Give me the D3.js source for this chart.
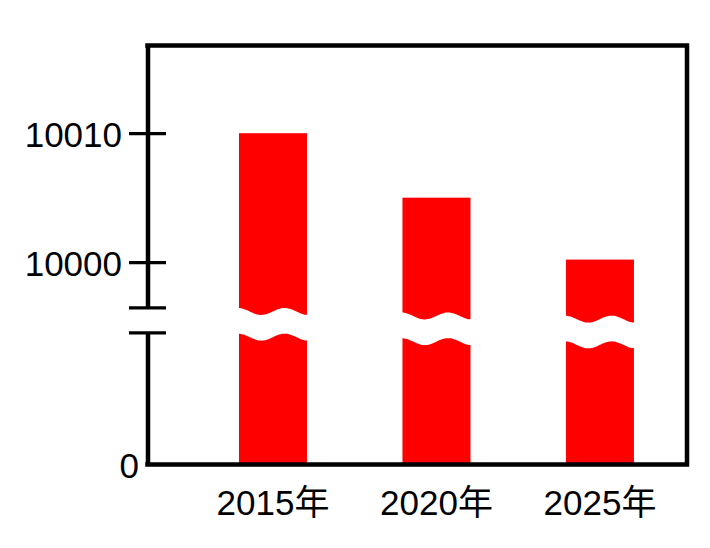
<!DOCTYPE html>
<html>
<head>
<meta charset="utf-8">
<script src="https://cdn.jsdelivr.net/npm/d3@7"></script>
<style>
  html, body { margin: 0; padding: 0; background: #ffffff; }
  svg { display: block; }
  text { font-family: "Liberation Sans", Arial, "Noto Sans CJK SC", sans-serif; }
</style>
</head>
<body>
<script>
// ---- data ----
const categories = ["2015年", "2020年", "2025年"];
const values = [10010, 10005, 10000.2];
const upperTicks = [10000, 10010];
const lowerTicks = [0];
const upperDomain = [9996.5, 10016.8];   // visible range above the axis break
const lowerDomain = [0, 1000];           // visible range below the axis break

// ---- layout ----
const W = 710, H = 548;
const plotL = 147.5, plotR = 687, plotT = 45.5, plotB = 464.5;
const breakTop = 307.3, breakBottom = 332.3;
const fontSize = 35;
const red = "#ff0000";

const svg = d3.select("body").append("svg")
  .attr("width", W).attr("height", H);

const x = d3.scaleBand()
  .domain(categories)
  .range([plotL, plotR])
  .paddingInner(0.584)
  .paddingOuter(0.442)
  .align(0.633);

const yHigh = d3.scaleLinear().domain(upperDomain).range([breakTop, plotT]);
const yLow = d3.scaleLinear().domain(lowerDomain).range([plotB, breakBottom]);

// ---- bars ----
const data = categories.map((c, i) => ({ c, v: values[i], i }));
svg.append("g").selectAll("rect")
  .data(data).join("rect")
  .attr("x", d => x(d.c))
  .attr("y", d => yHigh(d.v))
  .attr("width", x.bandwidth())
  .attr("height", d => yLow(0) - yHigh(d.v))
  .attr("fill", red);

// ---- wavy break bands across the bars ----
const waveShift = [4.5, 9, 12.2];
const breakMid = (breakTop + breakBottom) / 2;
const halfGap = 12.85, amp = 3.5;
const ts = d3.range(0, 1.0001, 0.02);
const area = d3.area()
  .curve(d3.curveBasis)
  .x(p => p.x)
  .y0(p => p.y - halfGap)
  .y1(p => p.y + halfGap);
svg.append("g").selectAll("path")
  .data(data).join("path")
  .attr("d", d => {
    const x0 = x(d.c) - 1, w = x.bandwidth() + 2;
    const c = breakMid + waveShift[d.i];
    return area(ts.map(t => ({ x: x0 + t * w, y: c - amp * Math.cos(3 * Math.PI * t) })));
  })
  .attr("fill", "#ffffff");

// ---- frame (top, right, bottom) ----
svg.append("path")
  .attr("d", `M${plotL},${plotT}H${plotR}V${plotB}H${plotL}`)
  .attr("stroke", "#000").attr("stroke-width", 4.5).attr("fill", "none")
  .attr("stroke-linecap", "square");

// ---- y axes (broken) ----
const tickLen = 18.5;
function styleAxis(g) {
  g.select(".domain").attr("stroke", "#000").attr("stroke-width", 4.5);
  g.selectAll(".tick line").attr("stroke", "#000").attr("stroke-width", 3.2)
    .attr("x1", -tickLen).attr("x2", tickLen);
  g.selectAll(".tick text")
    .attr("fill", "#000")
    .style("font-size", fontSize + "px")
    .attr("dy", "0.38em");
}

const upperAxis = d3.axisLeft(yHigh)
  .tickValues([upperDomain[0], ...upperTicks])
  .tickSizeInner(tickLen).tickSizeOuter(0).tickPadding(7)
  .tickFormat(d => upperTicks.includes(d) ? d3.format("d")(d) : "");
const ga = svg.append("g").attr("transform", `translate(${plotL},0)`).call(upperAxis);
styleAxis(ga);

const lowerAxis = d3.axisLeft(yLow)
  .tickValues([...lowerTicks, lowerDomain[1]])
  .tickSizeInner(tickLen).tickSizeOuter(0).tickPadding(7)
  .tickFormat(d => lowerTicks.includes(d) ? d3.format("d")(d) : "");
const gb = svg.append("g").attr("transform", `translate(${plotL},0)`).call(lowerAxis);
styleAxis(gb);
gb.selectAll(".tick").filter(d => lowerTicks.includes(d))
  .call(t => t.select("line").remove())
  .select("text").attr("x", -8.5);

// ---- x axis labels ----
const xAxis = d3.axisBottom(x).tickSize(0).tickPadding(25.7);
const gx = svg.append("g").attr("transform", `translate(0,${plotB})`).call(xAxis);
gx.select(".domain").remove();
gx.selectAll(".tick text").attr("fill", "#000").style("font-size", fontSize + "px");
</script>
</body>
</html>
